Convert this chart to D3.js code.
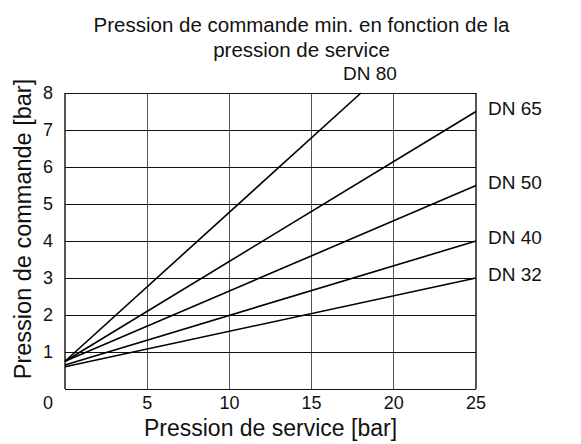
<!DOCTYPE html>
<html>
<head>
<meta charset="utf-8">
<script src="https://cdn.jsdelivr.net/npm/d3@7"></script>
<style>
  body { margin: 0; background: #fff; }
  text { font-family: "Liberation Sans", Arial, sans-serif; fill: #111; }
</style>
</head>
<body>
<div id="chart"></div>
<script>
// chart data
var title_lines = ['Pression de commande min. en fonction de la', 'pression de service'];
var x_ticks = [5, 10, 15, 20, 25];
var y_ticks = [1, 2, 3, 4, 5, 6, 7, 8];
var series_names = ['DN 80', 'DN 65', 'DN 50', 'DN 40', 'DN 32'];
// each line: [service pressure, command pressure] start and end
var dn80 = [[0, 0.75], [18, 8]];
var dn65 = [[0, 0.75], [25, 7.5]];
var dn50 = [[0, 0.75], [25, 5.5]];
var dn40 = [[0, 0.65], [25, 4]];
var dn32 = [[0, 0.6], [25, 3]];
var series_values = [dn80, dn65, dn50, dn40, dn32];

//setup
var chart_width = 581;
var chart_height = 444;
var margin = {top: 93, right: 105, bottom: 55, left: 65};

var svg = d3.select('#chart')
  .append('svg')
  .attr('width', chart_width)
  .attr('height', chart_height);

var x = d3.scaleLinear()
  .domain([0, 25])
  .range([margin.left, chart_width - margin.right]);

var y = d3.scaleLinear()
  .domain([0, 8])
  .range([chart_height - margin.bottom, margin.top]);

//grid, vertical lines
svg.append('g')
  .selectAll('line')
  .data([0].concat(x_ticks))
  .enter()
  .append('line')
  .attr('x1', function(d){ return x(d) })
  .attr('x2', function(d){ return x(d) })
  .attr('y1', y(0))
  .attr('y2', y(8))
  .attr('stroke', '#555')
  .attr('stroke-width', 1.3)
  .attr('shape-rendering', 'crispEdges');

//grid, horizontal lines
svg.append('g')
  .selectAll('line')
  .data([0].concat(y_ticks))
  .enter()
  .append('line')
  .attr('x1', x(0))
  .attr('x2', x(25))
  .attr('y1', function(d){ return y(d) })
  .attr('y2', function(d){ return y(d) })
  .attr('stroke', '#111')
  .attr('stroke-width', 1)
  .attr('shape-rendering', 'crispEdges');

//tick labels
svg.append('g')
  .selectAll('text')
  .data(x_ticks)
  .enter()
  .append('text')
  .attr('x', function(d){ return x(d) })
  .attr('y', 409)
  .attr('text-anchor', 'middle')
  .style('font-size', '18px')
  .text(function(d){ return d });

svg.append('g')
  .selectAll('text')
  .data(y_ticks)
  .enter()
  .append('text')
  .attr('x', 48)
  .attr('y', function(d){ return y(d) })
  .attr('dy', '0.35em')
  .attr('text-anchor', 'middle')
  .style('font-size', '18px')
  .text(function(d){ return d });

// shared origin label
svg.append('text')
  .attr('x', 48)
  .attr('y', 409)
  .attr('text-anchor', 'middle')
  .style('font-size', '18px')
  .text('0');

//lines
var line = d3.line()
  .x(function(d){ return x(d[0]) })
  .y(function(d){ return y(d[1]) });

svg.append('g')
  .selectAll('path')
  .data(series_values)
  .enter()
  .append('path')
  .attr('d', line)
  .attr('fill', 'none')
  .attr('stroke', '#000')
  .attr('stroke-width', 1.6);

//line labels
svg.append('g')
  .selectAll('text')
  .data(series_values)
  .enter()
  .append('text')
  .attr('x', function(d, i){
    var end = d[d.length - 1];
    return end[0] < 25 ? x(end[0]) + 9 : x(25) + 12;
  })
  .attr('y', function(d, i){
    var end = d[d.length - 1];
    return end[0] < 25 ? y(end[1]) - 13 : y(end[1]) + 3;
  })
  .attr('text-anchor', function(d){
    return d[d.length - 1][0] < 25 ? 'middle' : 'start';
  })
  .style('font-size', '19px')
  .text(function(d, i){ return series_names[i] });

//title
svg.append('g')
  .selectAll('text')
  .data(title_lines)
  .enter()
  .append('text')
  .attr('x', 301.5)
  .attr('y', function(d, i){ return 32 + i * 25 })
  .attr('text-anchor', 'middle')
  .style('font-size', '20.5px')
  .text(function(d){ return d });

//axis titles
svg.append('text')
  .attr('x', (x(0) + x(25)) / 2)
  .attr('y', 436)
  .attr('text-anchor', 'middle')
  .style('font-size', '23px')
  .text('Pression de service [bar]');

svg.append('text')
  .attr('transform', 'translate(31,229) rotate(-90)')
  .attr('text-anchor', 'middle')
  .style('font-size', '23.5px')
  .text('Pression de commande [bar]');
</script>
</body>
</html>
